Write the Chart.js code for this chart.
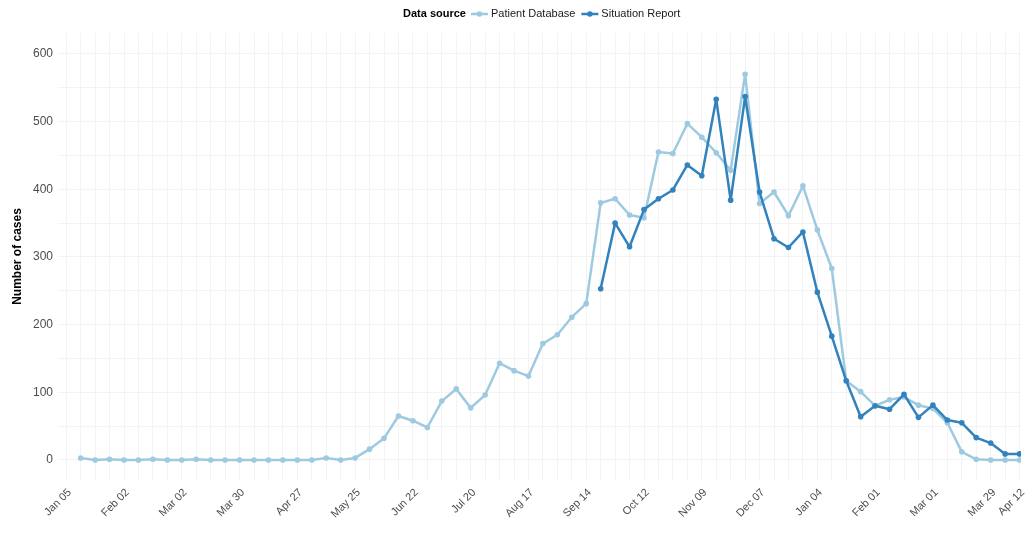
<!DOCTYPE html>
<html>
<head>
<meta charset="utf-8">
<script src="https://cdn.jsdelivr.net/npm/chart.js@4"></script>
<style>
  body { margin: 0; background: #fff; }
</style>
</head>
<body>
<canvas id="myChart" width="1025" height="543"></canvas>
<script>
// weekly counts, week 0 = Jan 05
const patientDatabase = [3, 0, 1, 0, 0, 1, 0, 0, 1, 0, 0, 0, 0, 0, 0, 0, 0, 3, 0, 3,
    16, 32, 65, 58, 48, 87, 105, 77, 96, 143, 132, 124, 172, 185, 211, 231,
    380, 386, 362, 358, 455, 453, 497, 477, 454, 428, 570, 379, 396, 361, 405, 340,
    283, 117, 101, 80, 89, 93, 81, 76, 55, 12, 1, 0, 0, 0];
const situationReport = [null, null, null, null, null, null, null, null, null, null,
    null, null, null, null, null, null, null, null, null, null, null, null, null, null,
    null, null, null, null, null, null, null, null, null, null, null, null,
    253, 350, 315, 370, 386, 399, 436, 420, 533, 384, 537, 396, 327, 314, 337, 248,
    183, 117, 64, 80, 75, 97, 63, 81, 59, 55, 33, 25, 9, 9];

const tickWeeks = [0, 4, 8, 12, 16, 20, 24, 28, 32, 36, 40, 44, 48, 52, 56, 60, 64, 66];
const tickLabels = ['Jan 05', 'Feb 02', 'Mar 02', 'Mar 30', 'Apr 27', 'May 25', 'Jun 22', 'Jul 20',
    'Aug 17', 'Sep 14', 'Oct 12', 'Nov 09', 'Dec 07', 'Jan 04', 'Feb 01', 'Mar 01', 'Mar 29', 'Apr 12'];
const yTicks = [0, 50, 100, 150, 200, 250, 300, 350, 400, 450, 500, 550, 600];

const lightBlue = '#9ecae1';
const darkBlue = '#3182bd';

const toPoints = function(values) {
    return values.map((v, i) => ({x: i, y: v}));
};

// inline legend with "Data source" title, like ggplot
const legendPlugin = {
    id: 'inlineLegend',
    afterDraw(chart) {
        const ctx = chart.ctx;
        const y = 14;
        ctx.save();
        ctx.textBaseline = 'middle';
        ctx.font = "bold 11px 'Liberation Sans', Arial, sans-serif";
        ctx.fillStyle = '#000';
        let x = 403;
        ctx.fillText('Data source', x, y);
        x += ctx.measureText('Data source').width + 5;
        ctx.font = "11px 'Liberation Sans', Arial, sans-serif";
        [['Patient Database', lightBlue], ['Situation Report', darkBlue]].forEach(item => {
            ctx.strokeStyle = item[1];
            ctx.fillStyle = item[1];
            ctx.lineWidth = 2.5;
            ctx.beginPath();
            ctx.moveTo(x, y);
            ctx.lineTo(x + 17, y);
            ctx.stroke();
            ctx.beginPath();
            ctx.arc(x + 8.5, y, 2.8, 0, Math.PI * 2);
            ctx.fill();
            x += 20;
            ctx.fillStyle = '#1a1a1a';
            ctx.fillText(item[0], x, y);
            x += ctx.measureText(item[0]).width + 6;
        });
        ctx.restore();
    }
};

const ctx = document.getElementById('myChart').getContext('2d');
const myChart = new Chart(ctx, {
    type: 'line',
    data: {
        datasets: [{
            label: 'Situation Report',
            data: toPoints(situationReport),
            borderColor: darkBlue,
            backgroundColor: darkBlue,
            borderWidth: 2.5,
            borderJoinStyle: 'round',
            borderCapStyle: 'round',
            pointRadius: 2.8,
            pointBorderWidth: 0,
            spanGaps: false
        }, {
            label: 'Patient Database',
            data: toPoints(patientDatabase),
            borderColor: lightBlue,
            backgroundColor: lightBlue,
            borderWidth: 2.5,
            borderJoinStyle: 'round',
            borderCapStyle: 'round',
            pointRadius: 2.8,
            pointBorderWidth: 0
        }]
    },
    options: {
        responsive: false,
        animation: false,
        layout: {padding: {top: 33, left: 0, right: 0, bottom: 0}},
        plugins: {
            legend: {display: false},
            tooltip: {enabled: false}
        },
        scales: {
            x: {
                type: 'linear',
                min: -1.57,
                max: 65.1,
                afterBuildTicks: function(scale) {
                    const ticks = [];
                    for (let i = -1; i <= 66; i++) ticks.push({value: i});
                    scale.ticks = ticks;
                },
                afterFit: function(scale) {
                    scale.height = 63;
                    scale.paddingLeft = 0;
                    scale.paddingRight = 0;
                },
                border: {display: false},
                grid: {color: '#f3f3f3', drawTicks: false, lineWidth: 1},
                ticks: {
                    autoSkip: false,
                    maxRotation: 45,
                    minRotation: 45,
                    padding: 6,
                    labelOffset: -11,
                    color: '#4d4d4d',
                    font: {family: "'Liberation Sans', Arial, sans-serif", size: 11},
                    callback: function(value) {
                        const k = tickWeeks.indexOf(value);
                        return k >= 0 ? tickLabels[k] : '';
                    }
                }
            },
            y: {
                min: -29.6,
                max: 631,
                afterBuildTicks: function(scale) {
                    scale.ticks = yTicks.map(v => ({value: v}));
                },
                afterFit: function(scale) { scale.width = 58; },
                border: {display: false},
                grid: {color: '#f3f3f3', drawTicks: false, lineWidth: 1},
                title: {
                    display: true,
                    text: 'Number of cases',
                    color: '#000',
                    font: {family: "'Liberation Sans', Arial, sans-serif", size: 12, weight: 'bold'},
                    padding: {top: 10, bottom: 4}
                },
                ticks: {
                    padding: 5,
                    color: '#4d4d4d',
                    font: {family: "'Liberation Sans', Arial, sans-serif", size: 12},
                    callback: function(value) {
                        return value % 100 === 0 ? value : '';
                    }
                }
            }
        }
    },
    plugins: [legendPlugin]
});
</script>
</body>
</html>
